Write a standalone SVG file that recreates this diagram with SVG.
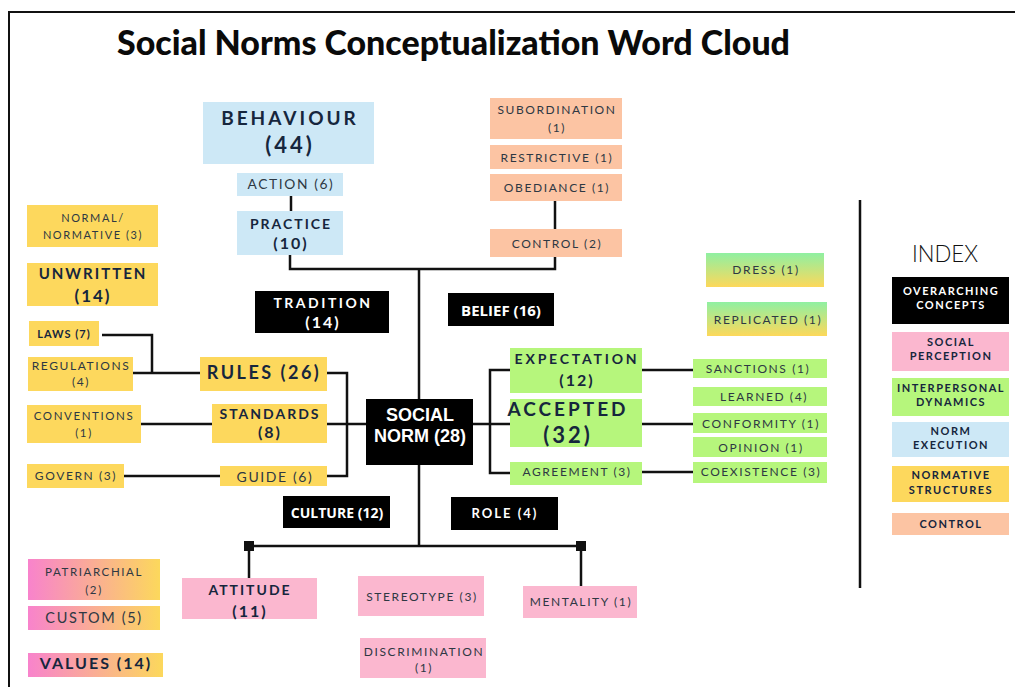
<svg xmlns="http://www.w3.org/2000/svg" width="1015" height="687" viewBox="0 0 1015 687" font-size="12">
<defs>
<linearGradient id="gy" x1="0" y1="0" x2="0" y2="1"><stop offset="0" stop-color="#8ff0a2"/><stop offset="1" stop-color="#fdd85a"/></linearGradient>
<linearGradient id="py" x1="0" y1="0" x2="1" y2="0"><stop offset="0" stop-color="#f883cc"/><stop offset="1" stop-color="#fcd85c"/></linearGradient>
<style>
.blue{fill:#cde8f6}.yel{fill:#fdd85d}.peach{fill:#fcc4a3}.grn{fill:#b6f67c}.pink{fill:#fbb7cf}.blk{fill:#000}
.lt{font-family:Lato,"Open Sans",sans-serif;fill:#2e3843;letter-spacing:1.6px;text-anchor:middle}
.bd{font-family:Lato,"Open Sans",sans-serif;font-weight:bold;fill:#16263d;letter-spacing:2px;text-anchor:middle}
.w{fill:#fff}
.os{font-family:"Open Sans",Lato,sans-serif;font-weight:bold;fill:#fff;text-anchor:middle;letter-spacing:0}
.ar{font-family:"Liberation Sans",Arial,sans-serif;font-weight:bold;fill:#fff;text-anchor:middle}
.ln{fill:none;stroke:#111;stroke-width:2.5}
</style>
</defs>
<rect width="1015" height="687" fill="#fff"/>
<path d="M9,687 V12 H1015" fill="none" stroke="#111" stroke-width="2"/>
<text x="117" y="55" font-family="Lato, 'Open Sans', sans-serif" font-weight="900" font-size="34" fill="#0a0a0a" textLength="673" lengthAdjust="spacingAndGlyphs">Social Norms Conceptualization Word Cloud</text>

<g id="connectors">
<path class="ln" d="M291,196 V211"/>
<path class="ln" d="M290,255 V269 H555 V257"/>
<path class="ln" d="M555,201 V229"/>
<path class="ln" d="M419,269 V399"/>
<path class="ln" d="M419,465 V546"/>
<path class="ln" d="M249,546 H581"/>
<path class="ln" d="M249,546 V578"/>
<path class="ln" d="M581,546 V586"/>
<rect x="244" y="541" width="10" height="10" fill="#111"/>
<rect x="576" y="541" width="10" height="10" fill="#111"/>
<path class="ln" d="M102,335 H152 V373"/>
<path class="ln" d="M133,373 H200"/>
<path class="ln" d="M327,373 H347 V476 H327"/>
<path class="ln" d="M141,424 H212"/>
<path class="ln" d="M327,424 H366"/>
<path class="ln" d="M124,476 H220"/>
<path class="ln" d="M473,424 H510"/>
<path class="ln" d="M510,370 H490 V473 H510"/>
<path class="ln" d="M642,370 H693"/>
<path class="ln" d="M642,424 H693"/>
<path class="ln" d="M642,472 H693"/>
</g>

<g id="behaviour"><rect class="blue" x="203" y="102" width="171" height="62"/><text class="bd" x="290" y="125" font-size="19" style="letter-spacing:3px">BEHAVIOUR</text><text class="bd" x="290" y="153" font-size="22" style="letter-spacing:3px">(44)</text></g>
<g id="action"><rect class="blue" x="237" y="173" width="106" height="23"/><text class="lt" x="291" y="189" font-size="13.8">ACTION (6)</text></g>
<g id="practice"><rect class="blue" x="237" y="211" width="106" height="44"/><text class="bd" x="291" y="229" font-size="14">PRACTICE</text><text class="bd" x="291" y="249" font-size="16">(10)</text></g>
<g id="subordination"><rect class="peach" x="490" y="98" width="132" height="41"/><text class="lt" x="557" y="114">SUBORDINATION</text><text class="lt" x="557" y="132">(1)</text></g>
<g id="restrictive"><rect class="peach" x="490" y="145" width="132" height="24"/><text class="lt" x="557" y="162">RESTRICTIVE (1)</text></g>
<g id="obediance"><rect class="peach" x="490" y="174" width="132" height="27"/><text class="lt" x="557" y="192">OBEDIANCE (1)</text></g>
<g id="control"><rect class="peach" x="490" y="229" width="132" height="28"/><text class="lt" x="557" y="248">CONTROL (2)</text></g>
<g id="normal"><rect class="yel" x="27" y="205" width="131" height="42"/><text class="lt" x="93" y="222" font-size="11">NORMAL/</text><text class="lt" x="93" y="239" font-size="11">NORMATIVE (3)</text></g>
<g id="unwritten"><rect class="yel" x="27" y="263" width="131" height="43"/><text class="bd" x="93" y="279" font-size="15">UNWRITTEN</text><text class="bd" x="93" y="302" font-size="17">(14)</text></g>
<g id="tradition"><rect class="blk" x="255" y="291" width="134" height="42"/><text class="bd w" x="323" y="308" font-size="14" style="letter-spacing:2.5px">TRADITION</text><text class="bd w" x="323" y="328" font-size="16">(14)</text></g>
<g id="belief"><rect class="blk" x="448" y="293" width="106" height="33"/><text class="os" x="501" y="316" font-size="15">BELIEF (16)</text></g>
<g id="laws"><rect class="yel" x="29" y="321" width="70" height="25"/><text class="bd" x="64" y="338" font-size="11" style="letter-spacing:1px">LAWS (7)</text></g>
<g id="regulations"><rect class="yel" x="28" y="357" width="105" height="34"/><text class="lt" x="81" y="370">REGULATIONS</text><text class="lt" x="81" y="386">(4)</text></g>
<g id="rules"><rect class="yel" x="200" y="357" width="127" height="34"/><text class="bd" x="264" y="379" font-size="18" style="letter-spacing:2.5px">RULES (26)</text></g>
<g id="conventions"><rect class="yel" x="27" y="405" width="114" height="38"/><text class="lt" x="84" y="420" font-size="11.5">CONVENTIONS</text><text class="lt" x="84" y="437" font-size="11.5">(1)</text></g>
<g id="standards"><rect class="yel" x="212" y="404" width="115" height="39"/><text class="bd" x="270" y="419" font-size="14">STANDARDS</text><text class="bd" x="270" y="438" font-size="16">(8)</text></g>
<g id="govern"><rect class="yel" x="27" y="464" width="97" height="24"/><text class="lt" x="76" y="480">GOVERN (3)</text></g>
<g id="guide"><rect class="yel" x="220" y="466" width="107" height="20"/><text class="lt" x="275" y="482" font-size="14">GUIDE (6)</text></g>
<g id="social-norm"><rect class="blk" x="366" y="399" width="107" height="66"/><text class="ar" x="420" y="421" font-size="18">SOCIAL</text><text class="ar" x="420" y="442" font-size="18">NORM (28)</text></g>
<g id="expectation"><rect class="grn" x="510" y="348" width="132" height="45"/><text class="bd" x="577" y="364" font-size="14" style="letter-spacing:2.8px">EXPECTATION</text><text class="bd" x="577" y="386" font-size="16">(12)</text></g>
<g id="accepted"><rect class="grn" x="510" y="399" width="132" height="48"/><text class="bd" x="568" y="416" font-size="19" style="letter-spacing:3px">ACCEPTED</text><text class="bd" x="568" y="443" font-size="22" style="letter-spacing:3px">(32)</text></g>
<g id="agreement"><rect class="grn" x="510" y="462" width="132" height="23"/><text class="lt" x="577" y="476">AGREEMENT (3)</text></g>
<g id="role"><rect class="blk" x="451" y="497" width="107" height="33"/><text class="bd w" x="505" y="518" font-size="13">ROLE (4)</text></g>
<g id="culture"><rect class="blk" x="283" y="496" width="107" height="32"/><text class="os" x="337" y="518" font-size="14">CULTURE (12)</text></g>
<g id="dress"><rect fill="url(#gy)" x="706" y="253" width="118" height="34"/><text class="lt" x="766" y="274">DRESS (1)</text></g>
<g id="replicated"><rect fill="url(#gy)" x="707" y="302" width="120" height="34"/><text class="lt" x="768" y="324">REPLICATED (1)</text></g>
<g id="sanctions"><rect class="grn" x="693" y="359" width="134" height="19"/><text class="lt" x="758" y="373">SANCTIONS (1)</text></g>
<g id="learned"><rect class="grn" x="693" y="387" width="134" height="19"/><text class="lt" x="764" y="401">LEARNED (4)</text></g>
<g id="conformity"><rect class="grn" x="693" y="413" width="134" height="20"/><text class="lt" x="761" y="428">CONFORMITY (1)</text></g>
<g id="opinion"><rect class="grn" x="693" y="437" width="134" height="20"/><text class="lt" x="761" y="452">OPINION (1)</text></g>
<g id="coexistence"><rect class="grn" x="693" y="462" width="134" height="21"/><text class="lt" x="761" y="476">COEXISTENCE (3)</text></g>
<g id="patriarchial"><rect fill="url(#py)" x="28" y="559" width="132" height="41"/><text class="lt" x="94" y="576" font-size="11.5">PATRIARCHIAL</text><text class="lt" x="94" y="594" font-size="11.5">(2)</text></g>
<g id="custom"><rect fill="url(#py)" x="28" y="606" width="132" height="24"/><text class="lt" x="94" y="623" font-size="14.5">CUSTOM (5)</text></g>
<g id="values"><rect fill="url(#py)" x="28" y="653" width="135" height="24"/><text class="bd" x="96" y="669" font-size="16">VALUES (14)</text></g>
<g id="attitude"><rect class="pink" x="182" y="578" width="135" height="41"/><text class="bd" x="250" y="595" font-size="14">ATTITUDE</text><text class="bd" x="250" y="617" font-size="16">(11)</text></g>
<g id="stereotype"><rect class="pink" x="358" y="576" width="126" height="40"/><text class="lt" x="422" y="601">STEREOTYPE (3)</text></g>
<g id="mentality"><rect class="pink" x="523" y="586" width="114" height="32"/><text class="lt" x="581" y="606">MENTALITY (1)</text></g>
<g id="discrimination"><rect class="pink" x="360" y="638" width="126" height="40"/><text class="lt" x="424" y="656">DISCRIMINATION</text><text class="lt" x="424" y="672">(1)</text></g>

<g id="index">
<path d="M860,200 V588" stroke="#111" stroke-width="2.5" fill="none"/>
<text x="945" y="262" font-family="Lato, 'Open Sans', sans-serif" font-size="23" font-weight="300" fill="#111" text-anchor="middle" textLength="66" lengthAdjust="spacingAndGlyphs">INDEX</text>
<g id="idx-overarching"><rect class="blk" x="892" y="277" width="117" height="47"/><text class="bd w" x="951" y="295" font-size="11" style="letter-spacing:1.5px">OVERARCHING</text><text class="bd w" x="951" y="309" font-size="11" style="letter-spacing:1.5px">CONCEPTS</text></g>
<g id="idx-social"><rect class="pink" x="892" y="332" width="117" height="39"/><text class="bd" x="951" y="346" font-size="11" style="letter-spacing:1.5px">SOCIAL</text><text class="bd" x="951" y="360" font-size="11" style="letter-spacing:1.5px">PERCEPTION</text></g>
<g id="idx-interpersonal"><rect class="grn" x="892" y="378" width="117" height="38"/><text class="bd" x="951" y="392" font-size="11" style="letter-spacing:1.5px">INTERPERSONAL</text><text class="bd" x="951" y="406" font-size="11" style="letter-spacing:1.5px">DYNAMICS</text></g>
<g id="idx-norm"><rect class="blue" x="892" y="422" width="117" height="35"/><text class="bd" x="951" y="435" font-size="11" style="letter-spacing:1.5px">NORM</text><text class="bd" x="951" y="449" font-size="11" style="letter-spacing:1.5px">EXECUTION</text></g>
<g id="idx-normative"><rect class="yel" x="892" y="466" width="117" height="36"/><text class="bd" x="951" y="479" font-size="11" style="letter-spacing:1.5px">NORMATIVE</text><text class="bd" x="951" y="494" font-size="11" style="letter-spacing:1.5px">STRUCTURES</text></g>
<g id="idx-control"><rect class="peach" x="892" y="513" width="117" height="22"/><text class="bd" x="951" y="528" font-size="11" style="letter-spacing:1.5px">CONTROL</text></g>
</g>
</svg>
